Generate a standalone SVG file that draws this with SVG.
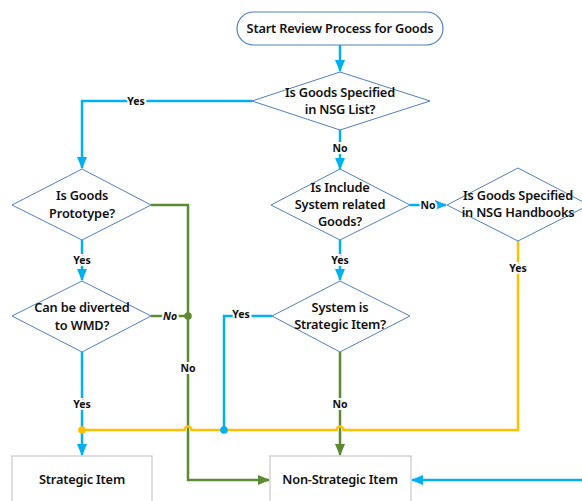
<svg xmlns="http://www.w3.org/2000/svg" width="582" height="501" viewBox="0 0 582 501">
<defs>
<style>
.dia{fill:#fff;stroke:#4F81BD;stroke-width:1}
.box{fill:#fff;stroke:#C8C8C8;stroke-width:1.2}
.term{fill:#fff;stroke:#4F81BD;stroke-width:1.2}
.t{font-family:"Noto Sans","Open Sans",sans-serif;font-size:12.8px;font-weight:600;fill:#111;text-anchor:middle;letter-spacing:-0.2px}
.lbl{font-family:"Noto Sans","Open Sans",sans-serif;font-size:10.5px;font-weight:700;fill:#111;text-anchor:middle;stroke:#fff;stroke-width:4;paint-order:stroke;dominant-baseline:central}
.b{fill:none;stroke:#00B0F0;stroke-width:2.5}
.g{fill:none;stroke:#5B8A32;stroke-width:2.5}
.y{fill:none;stroke:#FFC000;stroke-width:2.5}
</style>
<marker id="ab" markerUnits="userSpaceOnUse" markerWidth="12" markerHeight="12" viewBox="0 0 12 12" refX="11" refY="6" orient="auto"><path d="M0,1 L12,6 L0,11 z" fill="#00B0F0"/></marker>
<marker id="ag" markerUnits="userSpaceOnUse" markerWidth="12" markerHeight="12" viewBox="0 0 12 12" refX="11" refY="6" orient="auto"><path d="M0,1 L12,6 L0,11 z" fill="#5B8A32"/></marker>
</defs>
<rect width="582" height="501" fill="#fff"/>
<g id="connectors">
<path class="b" d="M340,45 V71" marker-end="url(#ab)"/>
<path class="b" d="M252,101 H82 V168" marker-end="url(#ab)"/>
<path class="b" d="M340,130 V169" marker-end="url(#ab)"/>
<path class="b" d="M82,240 V280" marker-end="url(#ab)"/>
<path class="b" d="M410,205 H446" marker-end="url(#ab)"/>
<path class="b" d="M340,240 V280" marker-end="url(#ab)"/>
<path class="g" d="M151,205 H188 V480 H269" marker-end="url(#ag)"/>
<path class="g" d="M151,316 H188"/>
<path class="g" d="M340,352 V455" marker-end="url(#ag)"/>
<path class="b" d="M82,352 V455" marker-end="url(#ab)"/>
<path class="b" d="M272,316 H224 V430"/>
<path class="y" d="M518,241 V430 H343.5 A3.5,3.5 0 0 0 336.5,430 H191.5 A3.5,3.5 0 0 0 184.5,430 H82"/>
<path class="b" d="M582,480 H412" marker-end="url(#ab)"/>
<circle cx="188" cy="316" r="3.8" fill="#5B8A32"/>
<circle cx="82" cy="430" r="3.8" fill="#FFC000"/>
<circle cx="224" cy="430" r="3.8" fill="#00B0F0"/>
<text class="lbl" x="136" y="101">Yes</text>
<text class="lbl" x="340" y="148">No</text>
<text class="lbl" x="82" y="260">Yes</text>
<text class="lbl" x="428" y="205">No</text>
<text class="lbl" x="340" y="260">Yes</text>
<text class="lbl" x="518" y="268">Yes</text>
<text class="lbl" x="170" y="316" font-style="italic">No</text>
<text class="lbl" x="241" y="314">Yes</text>
<text class="lbl" x="188" y="368">No</text>
<text class="lbl" x="82" y="404">Yes</text>
<text class="lbl" x="340" y="404">No</text>
</g>
<g id="start">
<rect class="term" x="237" y="12" width="206" height="33" rx="16.5"/>
<text class="t" x="340" y="33">Start Review Process for Goods</text>
</g>
<g id="d_nsglist">
<polygon class="dia" points="340,72 430,101 340,130 252,101"/>
<text class="t" x="340" y="97">Is Goods Specified</text>
<text class="t" x="340" y="114">in NSG List?</text>
</g>
<g id="d_prototype">
<polygon class="dia" points="82,169 151,205 82,240 12,205"/>
<text class="t" x="82" y="200">Is Goods</text>
<text class="t" x="82" y="218">Prototype?</text>
</g>
<g id="d_include">
<polygon class="dia" points="340,169 410,205 340,240 271,205"/>
<text class="t" x="340" y="192">Is Include</text>
<text class="t" x="340" y="209">System related</text>
<text class="t" x="340" y="226">Goods?</text>
</g>
<g id="d_handbooks">
<polygon class="dia" points="518,168 589,205 518,241 447,205"/>
<text class="t" x="518" y="200">Is Goods Specified</text>
<text class="t" x="518" y="217">in NSG Handbooks</text>
</g>
<g id="d_wmd">
<polygon class="dia" points="82,281 151,316 82,352 12,316"/>
<text class="t" x="82" y="312">Can be diverted</text>
<text class="t" x="82" y="330">to WMD?</text>
</g>
<g id="d_system">
<polygon class="dia" points="340,281 410,316 340,352 272,316"/>
<text class="t" x="340" y="312">System is</text>
<text class="t" x="340" y="329">Strategic Item?</text>
</g>
<g id="strategic">
<rect class="box" x="12" y="456" width="140" height="50"/>
<text class="t" x="82" y="484">Strategic Item</text>
</g>
<g id="nonstrategic">
<rect class="box" x="270" y="456" width="141" height="50"/>
<text class="t" x="340" y="484">Non-Strategic Item</text>
</g>
</svg>
